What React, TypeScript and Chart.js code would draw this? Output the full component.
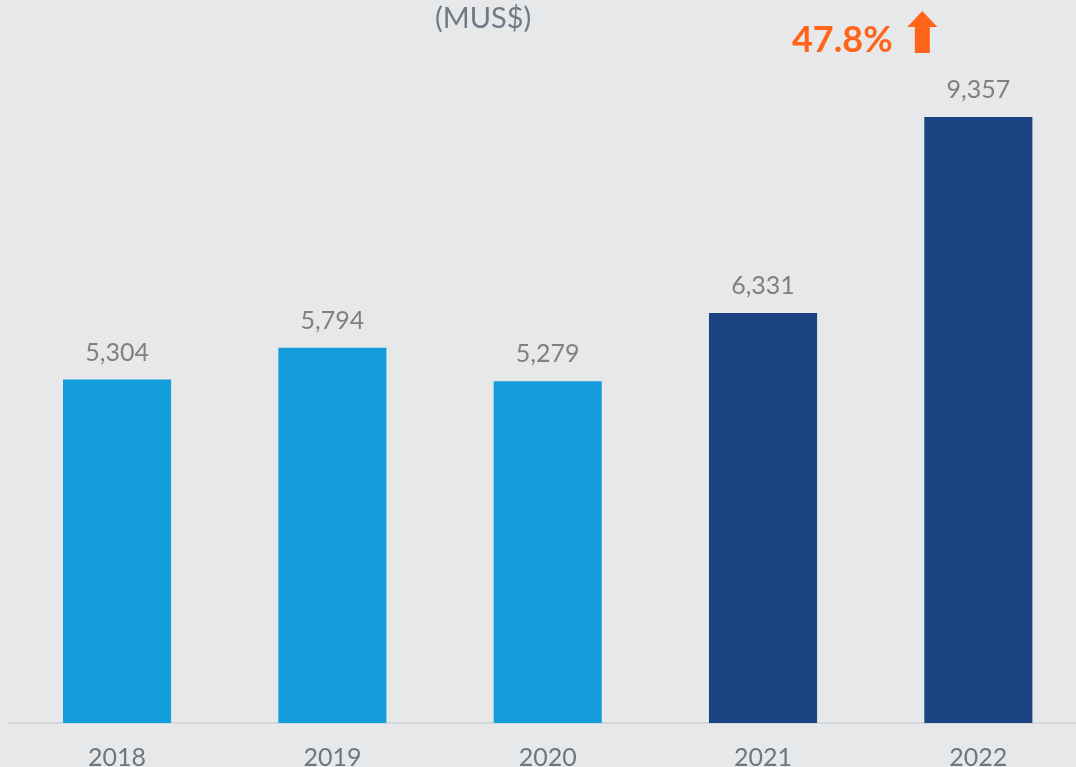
import React, { useEffect, useRef } from "react";
import { Chart, registerables } from "chart.js";

Chart.register(...registerables);

const categories = ["2018", "2019", "2020", "2021", "2022"];
const revenue = [5304, 5794, 5279, 6331, 9357];
const barColors = ["#139DDB", "#139DDB", "#139DDB", "#1B4381", "#1B4381"];
const titleText = "(MUS$)";
const growthText = "47.8%";

const FONT = "Lato, 'Open Sans', sans-serif";

const labelsPlugin = {
  id: "customLabels",
  afterDatasetsDraw(chart: any) {
    const ctx = chart.ctx;
    const meta = chart.getDatasetMeta(0);
    const area = chart.chartArea;
    ctx.save();
    // data labels
    ctx.font = `25px ${FONT}`;
    ctx.fillStyle = "#808080";
    ctx.textAlign = "center";
    ctx.textBaseline = "middle";
    meta.data.forEach((bar: any, i: number) => {
      ctx.fillText(revenue[i].toLocaleString("en-US"), bar.x, bar.y - 27);
    });
    // title
    ctx.font = `29px ${FONT}`;
    ctx.fillStyle = "#6E7B87";
    ctx.fillText(titleText, area.left + (area.right - area.left) * 0.44, 19);
    // growth annotation
    const last = meta.data[meta.data.length - 1];
    ctx.font = `bold 36px ${FONT}`;
    ctx.fillStyle = "#FF6418";
    ctx.fillText(growthText, last.x - 136, 40);
    const ax = last.x - 56;
    ctx.beginPath();
    ctx.moveTo(ax, 11);
    ctx.lineTo(ax + 15, 27);
    ctx.lineTo(ax + 7.5, 27);
    ctx.lineTo(ax + 7.5, 53);
    ctx.lineTo(ax - 7.5, 53);
    ctx.lineTo(ax - 7.5, 27);
    ctx.lineTo(ax - 15, 27);
    ctx.closePath();
    ctx.fill();
    ctx.restore();
  },
};

export default function App() {
  const ref = useRef<HTMLCanvasElement>(null);
  useEffect(() => {
    if (!ref.current) return;
    const chart = new Chart(ref.current, {
      type: "bar",
      data: {
        labels: categories,
        datasets: [
          {
            data: revenue,
            backgroundColor: barColors,
            borderWidth: 0,
            categoryPercentage: 1,
            barPercentage: 0.502,
          },
        ],
      },
      options: {
        responsive: false,
        animation: false,
        devicePixelRatio: 1,
        layout: { padding: { left: 9.4, right: 14, top: 75.4, bottom: 0 } },
        plugins: { legend: { display: false }, tooltip: { enabled: false }, title: { display: false } },
        scales: {
          x: {
            grid: { display: false },
            border: { display: true, color: "#D5D6D8", width: 2 },
            ticks: { color: "#6B7882", font: { family: FONT, size: 25 }, padding: 12 },
          },
          y: {
            display: false,
            min: 0,
            max: 10000,
          },
        },
      },
      plugins: [labelsPlugin],
    });
    return () => chart.destroy();
  }, []);
  return (
    <div style={{ position: "fixed", left: 0, top: 0, width: 1076, height: 767, overflow: "hidden", background: "#E7E8EA" }}>
      <canvas ref={ref} width={1100} height={785} style={{ display: "block" }} />
    </div>
  );
}
